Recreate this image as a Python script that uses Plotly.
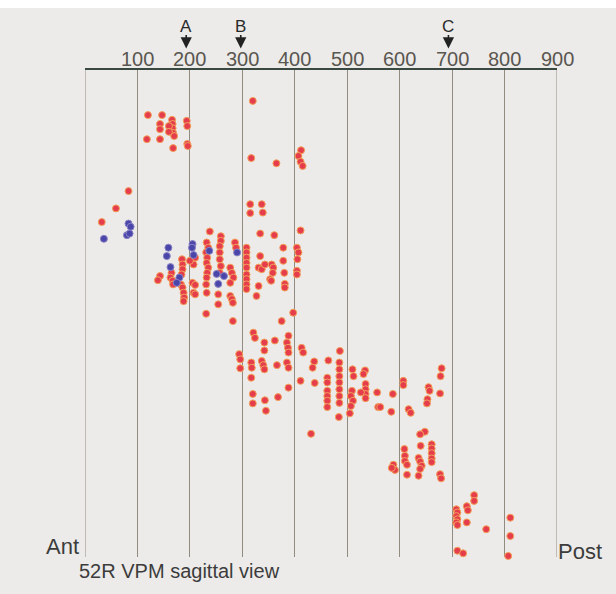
import plotly.graph_objects as go

# ---- data (micrometres: x = antero-posterior position, depth below the top axis) ----
red_x = [120,147,143,143,143,118,166,167,167,168,170,160,160,168,194,195,195,196,
         320,317,365,412,407,411,415,
         83,59,32,
         315,337,315,339,334,361,411,
         143,139,165,163,167,168,185,186,186,184,183,186,188,189,188,210,207,205,210,207,210,200,
         232,235,231,233,232,235,233,232,238,231,232,231,
         259,259,257,257,257,259,257,254,254,
         277,280,283,277,286,288,277,280,282,282,
         308,308,308,308,308,308,308,308,308,
         334,331,337,356,359,358,353,378,378,380,381,381,331,327,404,407,405,404,404,397,375,355,343,
         321,324,342,342,362,388,385,387,388,294,296,296,317,318,337,340,342,366,385,388,413,416,317,388,
         320,320,343,368,345,437,434,464,411,438,
         462,462,462,462,462,462,
         486,485,485,485,485,485,485,485,484,
         510,512,534,531,509,507,511,535,535,535,535,526,557,559,507,505,431,
         587,584,607,607,617,621,655,657,653,652,677,680,678,648,639,640,
         661,661,661,661,661,609,610,610,614,636,639,642,639,588,591,585,614,636,677,679,563,
         742,742,708,710,708,710,708,710,728,730,728,765,710,721,811,811,807]
red_depth = [86,86,103,113,132,132,95,103,111,120,126,107,118,149,97,107,141,145,
             59,168,178,153,164,175,183,
             231,264,290,
             256,256,273,272,312,315,306,
             393,401,387,396,402,409,361,371,380,390,409,415,425,434,441,358,371,406,410,425,428,364,
             329,339,348,358,368,377,387,396,308,409,425,465,
             317,326,336,348,361,374,387,428,447,
             377,387,396,406,329,339,431,437,444,479,
             339,348,358,368,377,390,399,409,418,
             355,377,380,371,377,387,399,339,364,387,408,415,412,431,339,348,361,383,390,463,479,402,371,
             501,511,520,535,516,507,520,530,539,542,552,569,558,568,555,563,571,563,558,568,530,539,587,606,
             618,636,630,624,650,556,568,554,593,597,
             587,596,612,622,631,643,
             536,558,571,584,596,609,622,635,662,
             571,584,573,580,612,622,631,599,609,618,626,615,615,643,641,655,694,
             618,652,593,601,647,654,605,612,628,636,617,569,584,690,695,717,
             714,722,731,741,748,723,736,746,753,740,747,755,761,753,763,759,772,774,771,779,643,
             811,822,838,844,851,857,863,868,832,840,863,876,917,922,854,889,927]

blue_x = [83,87,80,85,36,159,156,163,180,175,205,204,207,237,251,254,265,290]
blue_depth = [293,299,315,312,322,339,355,376,396,406,332,339,353,345,389,408,393,348]

tick_vals = [100, 200, 300, 400, 500, 600, 700, 800, 900]
tick_text = ["100", "200", "300", "400", "500", "600", "700", "800", "900"]
marker_labels = ["A", "B", "C"]
marker_pos = [193, 297, 693]

X_MAX = 900
DEPTH_MAX = 929

# ---- layout geometry (pixels) ----
W, H = 616, 594
L, R, T, B = 85, 59, 70, 37
PW, PH = W - L - R, H - T - B


def px_x(p):
    return (p - L) / PW


def px_y(p):
    return (H - B - p) / PH


BG = "#ecebe9"
GRID = "#928c80"
RED = "#e53d4b"
RED_RIM = "#f3a25c"
BLUE = "#4a45a8"
BLUE_RIM = "#8a82c6"
FONT = "Liberation Sans, Arial, sans-serif"

fig = go.Figure()
fig.add_trace(go.Scatter(
    x=red_x, y=red_depth, mode="markers", cliponaxis=False,
    marker=dict(size=7, color=RED, line=dict(color=RED_RIM, width=1)),
    showlegend=False, hoverinfo="skip"))
fig.add_trace(go.Scatter(
    x=blue_x, y=blue_depth, mode="markers", cliponaxis=False,
    marker=dict(size=7, color=BLUE, line=dict(color=BLUE_RIM, width=1)),
    showlegend=False, hoverinfo="skip"))

shapes = []
# left and right boundary lines of the grid
for v in (0, X_MAX):
    shapes.append(dict(type="line", xref="x", yref="paper", x0=v, x1=v, y0=0, y1=1,
                       line=dict(color=GRID, width=1), layer="below"))
# white strip at the very top of the scan
shapes.append(dict(type="rect", xref="paper", yref="paper",
                   x0=px_x(0), x1=px_x(W), y0=px_y(8), y1=px_y(0),
                   fillcolor="white", line=dict(width=0), layer="above"))

annotations = []
# top-axis tick labels
for v, t in zip(tick_vals, tick_text):
    annotations.append(dict(x=v, xref="x", y=px_y(59.5), yref="paper", text=t,
                            showarrow=False, xanchor="center", yanchor="middle",
                            font=dict(family=FONT, size=20, color="#5a5650")))
for lab, pos in zip(marker_labels, marker_pos):
    # arrow
    annotations.append(dict(x=pos, xref="x", y=px_y(48.5), yref="paper", text="",
                            showarrow=True, ax=0, ay=-15, arrowhead=2, arrowsize=1.4,
                            arrowwidth=1.6, arrowcolor="#222222", standoff=0, startstandoff=0))
    # letter
    annotations.append(dict(x=pos, xref="x", y=px_y(27), yref="paper", text=lab,
                            showarrow=False, xanchor="center", yanchor="middle",
                            font=dict(family=FONT, size=17, color="#2a2a2a")))

annotations.append(dict(x=px_x(81), y=px_y(546), xref="paper", yref="paper", text="Ant",
                        showarrow=False, xanchor="right", yanchor="middle",
                        font=dict(family=FONT, size=22, color="#3c3c3c")))
annotations.append(dict(x=px_x(556), y=px_y(551), xref="paper", yref="paper", text="Post",
                        showarrow=False, xanchor="left", yanchor="middle",
                        font=dict(family=FONT, size=22, color="#3c3c3c")))
annotations.append(dict(x=px_x(77), y=px_y(571), xref="paper", yref="paper",
                        text="52R VPM sagittal view",
                        showarrow=False, xanchor="left", yanchor="middle",
                        font=dict(family=FONT, size=20, color="#3c3c3c")))

fig.update_layout(
    width=W, height=H,
    margin=dict(l=L, r=R, t=T, b=B, pad=0),
    paper_bgcolor=BG, plot_bgcolor=BG,
    shapes=shapes, annotations=annotations,
    xaxis=dict(range=[0, X_MAX], side="top", tickmode="array",
               tickvals=tick_vals, ticktext=tick_text, showticklabels=False,
               showgrid=True, gridcolor=GRID, gridwidth=1,
               showline=True, linecolor="#3a4842", linewidth=2,
               ticks="", zeroline=False),
    yaxis=dict(range=[DEPTH_MAX, 0], showgrid=False, zeroline=False,
               showticklabels=False, ticks="", showline=False),
)

fig.write_html("out.html", config={"displayModeBar": False},
               post_script="document.body.style.margin='0';document.body.style.overflow='hidden';")
